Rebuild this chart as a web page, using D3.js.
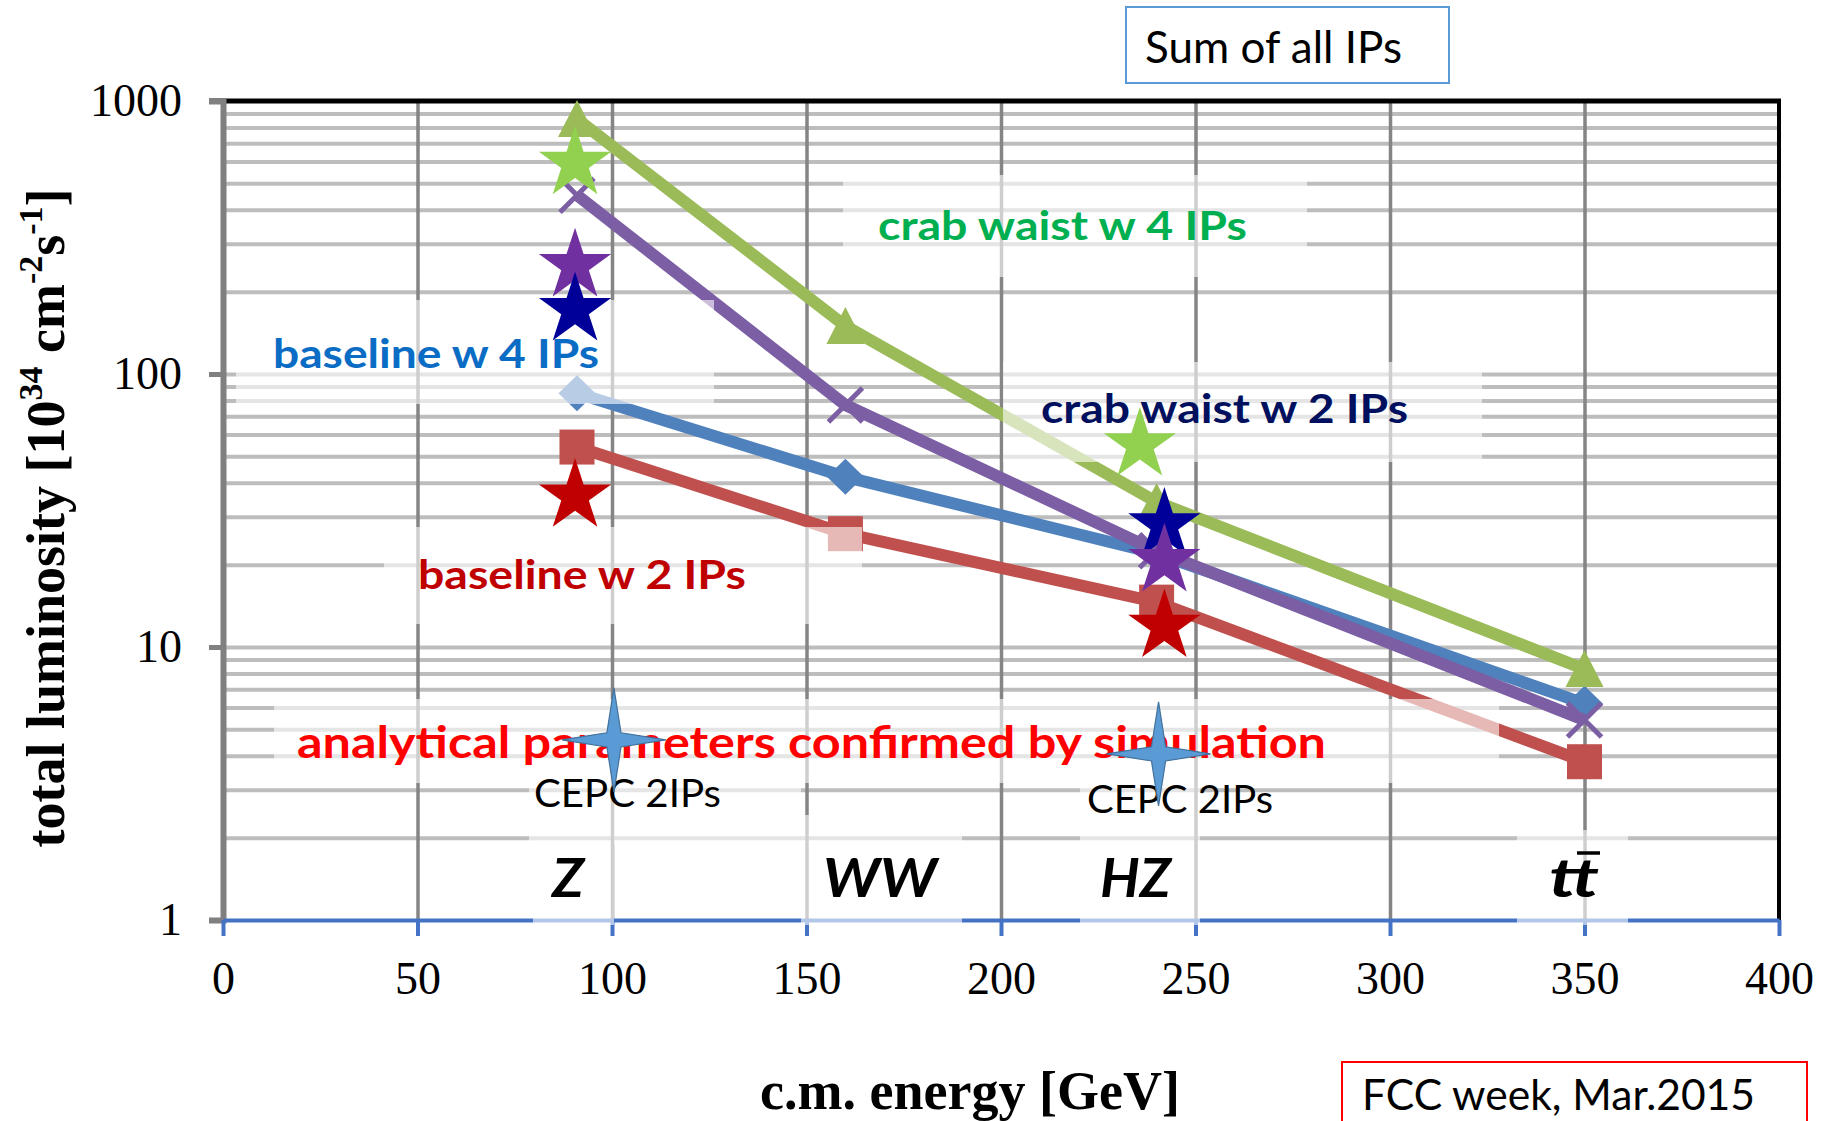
<!DOCTYPE html>
<html>
<head>
<meta charset="utf-8">
<script src="https://cdn.jsdelivr.net/npm/d3@7"></script>
<style>
  html, body { margin: 0; padding: 0; background: #ffffff; }
  svg { display: block; }
</style>
</head>
<body>
<svg id="chart" width="1824" height="1121"></svg>
<script>
// ---------------- DATA ----------------
const xTicks = [0, 50, 100, 150, 200, 250, 300, 350, 400];
const yTicks = [1, 10, 100, 1000];
const energies = [91, 160, 240, 350];                 // Z, WW, HZ, ttbar
const crab4IPs = [860, 150, 34, 8.3];
const crab2IPs = [452, 77, 22.5, 5.4];
const base4IPs = [85, 42, 22, 6.2];
const base2IPs = [54, 26, 14.6, 3.8];
const seriesLabels = ["crab waist w 4 IPs", "crab waist w 2 IPs", "baseline w 4 IPs", "baseline w 2 IPs"];
const starEnergiesZ = [90.5, 90.5, 90.5, 90.5];     // green, purple, navy, red
const starValuesZ = [590, 249, 172, 35.7];
const starEnergiesHZ = [235.7, 242, 242, 242];
const starValuesHZ = [55, 20.7, 28, 11.9];
const cepcEnergies = [100.5, 240.5];
const cepcValues = [4.57, 4.06];
const cepcLabel = "CEPC 2IPs";
const processLabels = ["Z", "WW", "HZ", "tt"];
const noteLabel = "analytical parameters confirmed by simulation";
const xTitle = "c.m. energy [GeV]";

// ---------------- SETUP ----------------
const svg = d3.select("#chart");
const x = d3.scaleLinear().domain([0, 400]).range([223, 1779]);
const y = d3.scaleLog().domain([1, 1000]).range([920, 101]);
const plotW = x(400) - x(0), plotH = y(1) - y(1000);
const serif = "'Liberation Serif', 'Times New Roman', serif";
const sans = "Lato, Carlito, Calibri, sans-serif";

// ---------------- GRID ----------------
const minorY = [];
yTicks.slice(0, -1).forEach(d => d3.range(2, 10).forEach(k => minorY.push(d * k)));
const gridH = svg.append("g").attr("transform", `translate(${x(0)},0)`)
  .call(d3.axisLeft(y).tickValues(minorY.concat([10, 100])).tickSize(-plotW).tickFormat(""));
gridH.select(".domain").remove();
gridH.selectAll("line").attr("stroke", "#bdbdbd").attr("stroke-width", 4);

const gridV = svg.append("g").attr("transform", `translate(0,${y(1)})`)
  .call(d3.axisBottom(x).tickValues(xTicks.slice(1, -1)).tickSize(-plotH).tickFormat(""));
gridV.select(".domain").remove();
gridV.selectAll("line").attr("stroke", "#858585").attr("stroke-width", 3.5);

// borders
svg.append("line").attr("x1", x(0) - 14).attr("x2", x(400) + 2).attr("y1", y(1000)).attr("y2", y(1000))
  .attr("stroke", "#000").attr("stroke-width", 5);
svg.append("line").attr("x1", x(400)).attr("x2", x(400)).attr("y1", y(1000)).attr("y2", y(1))
  .attr("stroke", "#000").attr("stroke-width", 4);

// ---------------- AXES ----------------
const yAxis = svg.append("g").attr("transform", `translate(${x(0)},0)`)
  .call(d3.axisLeft(y).tickValues(yTicks).tickSize(14).tickPadding(27).tickFormat(d3.format("d")));
yAxis.select(".domain").attr("stroke", "#808080").attr("stroke-width", 6);
yAxis.selectAll(".tick line").attr("stroke", "#808080").attr("stroke-width", 5);
yAxis.selectAll("text").attr("font-family", serif).attr("font-size", 46).attr("fill", "#000");

const xAxis = svg.append("g").attr("transform", `translate(0,${y(1)})`)
  .call(d3.axisBottom(x).tickValues(xTicks).tickSize(16).tickPadding(25).tickSizeOuter(0));
xAxis.select(".domain").attr("stroke", "#4472c4").attr("stroke-width", 4);
xAxis.selectAll(".tick line").attr("stroke", "#4472c4").attr("stroke-width", 4);
xAxis.selectAll("text").attr("font-family", serif).attr("font-size", 46).attr("fill", "#000");

// ---------------- SERIES ----------------
const series = [
  {vals: base2IPs, color: "#c0504d", marker: "square"},
  {vals: base4IPs, color: "#4f81bd", marker: "diamond"},
  {vals: crab2IPs, color: "#7b5ea3", marker: "x"},
  {vals: crab4IPs, color: "#9bbb59", marker: "triangle"}
];
const line = d3.line().x(d => x(d[0])).y(d => y(d[1]));
const gS = svg.append("g");
series.forEach(s => {
  const pts = energies.map((e, i) => [e, s.vals[i]]);
  gS.append("path").attr("d", line(pts)).attr("fill", "none").attr("stroke", s.color)
    .attr("stroke-width", 12).attr("stroke-linejoin", "round");
  pts.forEach(p => {
    const cx = x(p[0]), cy = y(p[1]);
    if (s.marker === "square") {
      gS.append("rect").attr("x", cx - 17.5).attr("y", cy - 17.5).attr("width", 35).attr("height", 35).attr("fill", s.color);
    } else if (s.marker === "diamond") {
      gS.append("path").attr("d", `M${cx},${cy - 18}L${cx + 18.5},${cy}L${cx},${cy + 18}L${cx - 18.5},${cy}Z`).attr("fill", s.color);
    } else if (s.marker === "triangle") {
      gS.append("path").attr("d", `M${cx},${cy - 19}L${cx + 19},${cy + 18}L${cx - 19},${cy + 18}Z`).attr("fill", s.color);
    } else {
      gS.append("path").attr("d", `M${cx - 17},${cy - 17}L${cx + 17},${cy + 17}M${cx + 17},${cy - 17}L${cx - 17},${cy + 17}`)
        .attr("stroke", s.color).attr("stroke-width", 5);
    }
  });
});

// ---------------- SEMI-TRANSPARENT LABEL BOXES ----------------
const boxes = [
  [843, 175, 1307, 277], [236, 300, 714, 404], [1003, 362, 1482, 462], [384, 527, 862, 624],
  [274, 699, 1499, 783], [529, 783, 801, 845], [533, 845, 614, 925], [801, 815, 962, 925],
  [1080, 783, 1200, 925], [1517, 830, 1628, 925]
];
svg.append("g").selectAll("rect").data(boxes).join("rect")
  .attr("x", d => d[0]).attr("y", d => d[1]).attr("width", d => d[2] - d[0]).attr("height", d => d[3] - d[1])
  .attr("fill", "#ffffff").attr("fill-opacity", 0.6);

// ---------------- SERIES LABELS ----------------
const labelStyle = [
  {x: 878, y: 240, w: 369, size: 40, color: "#00b050"},
  {x: 1041, y: 423, w: 367, size: 40, color: "#00105e"},
  {x: 273, y: 368, w: 326, size: 40, color: "#0a6cc4"},
  {x: 418, y: 589, w: 328, size: 40, color: "#c00000"}
];
seriesLabels.forEach((t, i) => {
  const st = labelStyle[i];
  svg.append("text").attr("x", st.x).attr("y", st.y).text(t)
    .attr("font-family", sans).attr("font-weight", 700).attr("font-size", st.size)
    .attr("fill", st.color).attr("textLength", st.w).attr("lengthAdjust", "spacingAndGlyphs");
});

svg.append("text").attr("x", 297).attr("y", 758).text(noteLabel)
  .attr("font-family", sans).attr("font-weight", 700).attr("font-size", 44)
  .attr("fill", "#ff0000").attr("textLength", 1029).attr("lengthAdjust", "spacingAndGlyphs");

// process labels
const procStyle = [
  {x: 552, w: 32}, {x: 823, w: 114}, {x: 1100, w: 71}, {x: 1549, w: 50}
];
processLabels.forEach((t, i) => {
  svg.append("text").attr("x", procStyle[i].x).attr("y", 897).text(t)
    .attr("font-family", sans).attr("font-weight", 700).attr("font-style", "italic").attr("font-size", 53)
    .attr("fill", "#000").attr("textLength", procStyle[i].w).attr("lengthAdjust", "spacingAndGlyphs");
});
svg.append("line").attr("x1", 1577).attr("x2", 1600).attr("y1", 853).attr("y2", 853)
  .attr("stroke", "#000").attr("stroke-width", 3.5);

// ---------------- STARS ----------------
const starColors = ["#92d050", "#7030a0", "#000099", "#c00000"];
const star = d3.symbol().type(d3.symbolStar).size(1621);
const gStars = svg.append("g");
starValuesZ.forEach((v, i) => {
  gStars.append("path").attr("d", star()).attr("fill", starColors[i])
    .attr("transform", `translate(${x(starEnergiesZ[i])},${y(v)})`);
});
// HZ: draw green, navy, purple, red order (navy under purple)
[0, 2, 1, 3].forEach(i => {
  gStars.append("path").attr("d", star()).attr("fill", starColors[i])
    .attr("transform", `translate(${x(starEnergiesHZ[i])},${y(starValuesHZ[i])})`);
});

// ---------------- CEPC ----------------
const cepcLabelPos = [{x: 534, y: 807, w: 187}, {x: 1087, y: 813, w: 186}];
cepcEnergies.forEach((e, i) => {
  svg.append("text").attr("x", cepcLabelPos[i].x).attr("y", cepcLabelPos[i].y).text(cepcLabel)
    .attr("font-family", sans).attr("font-size", 39).attr("fill", "#000")
    .attr("textLength", cepcLabelPos[i].w).attr("lengthAdjust", "spacingAndGlyphs");
});
const fourStar = (R, r) => {
  const pts = d3.range(8).map(k => {
    const a = k * Math.PI / 4 - Math.PI / 2;
    const rr = k % 2 === 0 ? R : r;
    return [rr * Math.cos(a), rr * Math.sin(a)];
  });
  return d3.line()(pts) + "Z";
};
cepcEnergies.forEach((e, i) => {
  svg.append("path").attr("d", fourStar(52, 10)).attr("fill", "#5b9bd5").attr("stroke", "#41719c").attr("stroke-width", 1.2)
    .attr("transform", `translate(${x(e)},${y(cepcValues[i])})`);
});

// ---------------- AXIS TITLES ----------------
const yt = svg.append("text").attr("transform", "translate(64,518) rotate(-90)")
  .attr("text-anchor", "middle").attr("font-family", serif).attr("font-weight", 700).attr("font-size", 54).attr("fill", "#000");
yt.append("tspan").text("total luminosity [10");
yt.append("tspan").text("34").attr("font-size", 34).attr("dy", -22);
yt.append("tspan").text(" cm").attr("dy", 22);
yt.append("tspan").text("-2").attr("font-size", 34).attr("dy", -22);
yt.append("tspan").text("s").attr("dy", 22);
yt.append("tspan").text("-1").attr("font-size", 34).attr("dy", -22);
yt.append("tspan").text("]").attr("dy", 22);

svg.append("text").attr("x", 970).attr("y", 1109).attr("text-anchor", "middle").text(xTitle)
  .attr("font-family", serif).attr("font-weight", 700).attr("font-size", 54).attr("fill", "#000");

// ---------------- NOTE BOXES ----------------
svg.append("rect").attr("x", 1126).attr("y", 7).attr("width", 323).attr("height", 76)
  .attr("fill", "#fff").attr("stroke", "#5b9bd5").attr("stroke-width", 2);
svg.append("text").attr("x", 1145).attr("y", 63).text("Sum of all IPs")
  .attr("font-family", sans).attr("font-size", 44).attr("fill", "#000")
  .attr("textLength", 257).attr("lengthAdjust", "spacingAndGlyphs");

svg.append("rect").attr("x", 1342).attr("y", 1062).attr("width", 465).attr("height", 80)
  .attr("fill", "#fff").attr("stroke", "#ff0000").attr("stroke-width", 2);
svg.append("text").attr("x", 1362).attr("y", 1110).text("FCC week, Mar.2015")
  .attr("font-family", sans).attr("font-size", 42).attr("fill", "#000")
  .attr("textLength", 393).attr("lengthAdjust", "spacingAndGlyphs");
</script>
</body>
</html>
